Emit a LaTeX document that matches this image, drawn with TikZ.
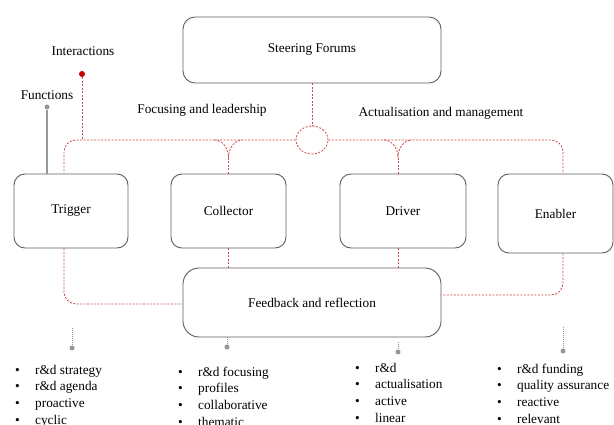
\documentclass[tikz,border=0pt]{standalone}
\usepackage{fontspec}
\setmainfont{Liberation Serif}
\usetikzlibrary{calc,shapes.geometric}
\definecolor{boxgray}{RGB}{95,95,95}
\definecolor{dashred}{RGB}{205,75,75}
\definecolor{dotred}{RGB}{200,0,0}
\definecolor{linegray}{RGB}{150,150,150}
\newcommand{\lbul}{\makebox[20pt][l]{\textbullet}}
\begin{document}
\begin{tikzpicture}[x=1pt,y=-1pt,
  font=\fontsize{13.3}{16.7}\selectfont,
  box/.style={draw=boxgray, line width=0.9pt, rounded corners=11pt, align=center},
  reddash/.style={draw=dashred, line width=0.8pt, dash pattern=on 2pt off 1.5pt},
  graydots/.style={draw=linegray, line width=0.8pt, dash pattern=on 0.8pt off 1.2pt},
  gdot/.style={circle, fill=linegray, minimum size=5pt, inner sep=0pt},
  listnode/.style={anchor=base west, inner sep=0pt}]
\useasboundingbox (0,0) rectangle (614,425);
\fill[white] (0,0) rectangle (614,425);

% boxes
\node[box, minimum width=258pt, minimum height=66pt, rounded corners=12pt] (steer) at (312,50) {Steering Forums};
\node[box, minimum width=114pt, minimum height=74pt] (trig) at (71,211) {Trigger};
\node[box, minimum width=115pt, minimum height=74pt] (coll) at (228.5,211) {Collector};
\node[box, minimum width=126pt, minimum height=74pt] (driv) at (403,211) {Driver};
\node[box, minimum width=115pt, minimum height=79pt] (enab) at (555.5,213.5) {Enabler};
\node[box, minimum width=258pt, minimum height=69pt, rounded corners=16pt] (feed) at (312,302.5) {Feedback and reflection};

% hub
\node[reddash, ellipse, minimum width=32pt, minimum height=28pt, inner sep=0pt] (hub) at (312,140) {};

% labels
\node (ilab) at (83,51) {Interactions};
\node (flab) at (47,95) {Functions};
\node (lab1) at (202,110) {Focusing and leadership};
\node (lab2) at (441,113) {Actualisation and management};

% top connectors
\draw[reddash] (steer.south) -- (hub.north);
\draw[reddash, rounded corners=12pt] (hub.west) -| ([xshift=-7pt]trig.north);
\draw[reddash, rounded corners=12pt] (hub.east) -| ([xshift=7.5pt]enab.north);

% Y junctions
\coordinate (cj) at ($(coll.north)+(0,-16)$);
\draw[reddash] (coll.north) -- (cj);
\draw[reddash] ($(cj |- hub.west)+(-14,0)$) .. controls +(9,0) and +(0,-8) .. (cj)
   .. controls +(0,-8) and +(-9,0) .. ($(cj |- hub.west)+(14,0)$);
\coordinate (dj) at ($([xshift=-5pt]driv.north)+(0,-16)$);
\draw[reddash] (dj) -- (dj |- driv.north);
\draw[reddash] ($(dj |- hub.west)+(-14,0)$) .. controls +(9,0) and +(0,-8) .. (dj)
   .. controls +(0,-8) and +(-9,0) .. ($(dj |- hub.west)+(14,0)$);

% interactions / functions markers
\node[circle, fill=dotred, minimum size=6pt, inner sep=0pt] (idot) at (82,74) {};
\draw[reddash] (idot) -- (idot |- hub.west);
\node[gdot] (fdot) at (47,107) {};
\draw[linegray, line width=1.2pt] (fdot) -- (fdot |- trig.north);

% bottom connectors
\draw[reddash, rounded corners=12pt] ([xshift=-7pt]trig.south) |- ([yshift=-1.5pt]feed.west);
\draw[reddash, rounded corners=12pt] ([xshift=7.5pt]enab.south) |- ([yshift=7.5pt]feed.east);
\draw[reddash] (coll.south) -- (coll.south |- feed.north);
\draw[reddash] ([xshift=-5pt]driv.south) -- ([xshift=-5pt]driv.south |- feed.north);

% dotted markers to lists
\node[gdot] (d1) at (72,348) {};
\coordinate (d1t) at (72,328);
\draw[graydots] (d1t) -- (d1);
\node[gdot] (d2) at (227,347) {};
\draw[graydots] (d2 |- feed.south) -- (d2);
\node[gdot] (d3) at (398,352) {};
\coordinate (d3t) at (398,342);
\draw[graydots] (d3t) -- (d3);
\node[gdot] (d4) at (563,351) {};
\coordinate (d4t) at (563,327);
\draw[graydots] (d4t) -- (d4);

% lists
\node[listnode] (list1) at (15,374) {\begin{tabular}[t]{@{}l@{}}\lbul r\&d strategy\\ \lbul r\&d agenda\\ \lbul proactive\\ \lbul cyclic\end{tabular}};
\node[listnode] (list2) at (178,376) {\begin{tabular}[t]{@{}l@{}}\lbul r\&d focusing\\ \lbul profiles\\ \lbul collaborative\\ \lbul thematic\end{tabular}};
\node[listnode] (list3) at (355,372) {\begin{tabular}[t]{@{}l@{}}\lbul r\&d\\ \lbul actualisation\\ \lbul active\\ \lbul linear\end{tabular}};
\node[listnode] (list4) at (497,373) {\begin{tabular}[t]{@{}l@{}}\lbul r\&d funding\\ \lbul quality assurance\\ \lbul reactive\\ \lbul relevant\end{tabular}};
\end{tikzpicture}
\end{document}
